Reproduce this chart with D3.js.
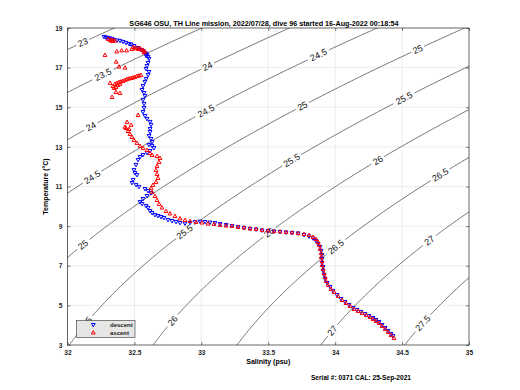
<!DOCTYPE html>
<html><head><meta charset="utf-8">
<script src="https://cdn.jsdelivr.net/npm/d3@7"></script>
<style>
body{margin:0;background:#fff}
text{font-family:"Liberation Sans",Arial,sans-serif}
</style></head><body>
<svg id="chart" width="520" height="390"></svg>
<script>
// descent profile (blue), [salinity, temperature]
const descent = [
[32.273,18.55],[32.288,18.52],[32.303,18.50],[32.318,18.47],[32.333,18.45],[32.348,18.40],[32.370,18.37],[32.392,18.35],
[32.415,18.30],[32.437,18.25],[32.460,18.19],[32.475,18.17],[32.497,18.09],[32.527,17.99],[32.549,17.89],[32.564,17.84],
[32.579,17.74],[32.587,17.69],[32.594,17.64],[32.587,17.59],[32.602,17.54],[32.609,17.44],[32.602,17.24],[32.594,17.08],
[32.587,16.93],[32.609,16.78],[32.602,16.63],[32.587,16.43],[32.579,16.28],[32.564,16.07],[32.557,15.87],[32.572,15.72],
[32.579,15.57],[32.564,15.37],[32.572,15.17],[32.572,14.96],[32.564,14.76],[32.579,14.56],[32.594,14.41],[32.617,14.26],
[32.624,14.11],[32.617,13.90],[32.617,13.75],[32.609,13.55],[32.624,13.40],[32.632,13.25],[32.609,13.10],[32.632,13.05],
[32.646,12.94],[32.617,12.79],[32.594,12.69],[32.564,12.59],[32.542,12.49],[32.527,12.34],[32.512,12.09],[32.497,11.83],
[32.504,11.68],[32.519,11.58],[32.490,11.33],[32.482,11.18],[32.512,11.08],[32.534,10.98],[32.579,10.87],[32.602,10.77],
[32.624,10.67],[32.594,10.52],[32.564,10.37],[32.542,10.22],[32.557,10.12],[32.587,10.02],[32.602,9.92],[32.617,9.76],
[32.632,9.66],[32.654,9.56],[32.676,9.51],[32.699,9.46],[32.721,9.41],[32.751,9.31],[32.781,9.26],[32.811,9.21],
[32.841,9.16],[32.878,9.13],[32.916,9.16],[32.953,9.21],[32.990,9.23],[33.028,9.21],[33.065,9.18],[33.102,9.16],
[33.140,9.11],[33.185,9.06],[33.229,9.01],[33.274,8.96],[33.319,8.91],[33.364,8.86],[33.409,8.83],[33.454,8.78],
[33.499,8.75],[33.543,8.73],[33.588,8.70],[33.633,8.68],[33.678,8.65],[33.723,8.63],[33.767,8.55],[33.805,8.48],
[33.835,8.38],[33.857,8.25],[33.872,8.10],[33.887,7.95],[33.895,7.75],[33.902,7.54],[33.902,7.34],[33.902,7.14],
[33.910,6.94],[33.910,6.74],[33.917,6.53],[33.925,6.33],[33.940,6.13],[33.962,5.93],[33.984,5.73],[34.014,5.52],
[34.044,5.32],[34.074,5.17],[34.104,5.02],[34.134,4.87],[34.163,4.77],[34.193,4.67],[34.223,4.56],[34.253,4.46],
[34.283,4.36],[34.305,4.26],[34.328,4.16],[34.350,4.01],[34.373,3.86],[34.395,3.71],[34.417,3.56],[34.432,3.45]
];

// ascent profile (red), [salinity, temperature]
const ascent = [
[34.440,3.35],[34.417,3.50],[34.395,3.66],[34.373,3.81],[34.350,3.96],[34.328,4.11],[34.305,4.21],[34.283,4.31],
[34.260,4.41],[34.231,4.51],[34.201,4.62],[34.171,4.72],[34.141,4.82],[34.111,4.97],[34.081,5.12],[34.052,5.27],
[34.022,5.47],[33.992,5.68],[33.969,5.83],[33.947,6.03],[33.932,6.23],[33.925,6.43],[33.917,6.63],[33.910,6.84],
[33.902,7.04],[33.902,7.24],[33.895,7.44],[33.895,7.64],[33.887,7.85],[33.880,8.05],[33.872,8.20],[33.857,8.35],
[33.835,8.45],[33.805,8.55],[33.767,8.60],[33.723,8.65],[33.678,8.68],[33.633,8.70],[33.588,8.73],[33.543,8.75],
[33.499,8.78],[33.454,8.81],[33.409,8.86],[33.364,8.88],[33.319,8.93],[33.274,8.96],[33.229,9.01],[33.185,9.03],
[33.140,9.06],[33.095,9.11],[33.050,9.13],[33.005,9.18],[32.960,9.21],[32.916,9.26],[32.878,9.31],[32.841,9.39],
[32.803,9.51],[32.766,9.64],[32.736,9.76],[32.706,9.94],[32.684,10.12],[32.669,10.32],[32.654,10.52],[32.632,10.72],
[32.624,10.93],[32.639,11.08],[32.661,11.23],[32.676,11.43],[32.669,11.63],[32.661,11.83],[32.669,12.04],[32.684,12.24],
[32.691,12.44],[32.669,12.54],[32.632,12.59],[32.617,12.69],[32.594,12.84],[32.564,12.94],[32.542,13.05],[32.519,13.20],
[32.497,13.35],[32.482,13.50],[32.467,13.65],[32.452,13.80],[32.437,13.95],[32.445,14.26],[32.430,14.01],[32.475,14.11],
[32.460,13.90],[32.527,14.61],[32.392,15.72],[32.362,15.77],[32.333,15.52],
[32.340,16.07],[32.348,15.97],[32.362,16.02],[32.355,16.18],[32.370,16.23],[32.377,16.12],[32.385,16.28],[32.392,16.18],
[32.400,16.30],[32.415,16.33],[32.430,16.38],[32.445,16.43],[32.460,16.45],[32.475,16.48],[32.490,16.50],[32.504,16.53],
[32.519,16.58],[32.534,16.60],[32.549,16.63],[32.318,16.23],
[32.430,17.00],[32.385,17.05],[32.364,17.30],[32.280,17.64],
[32.368,17.82],[32.405,17.87],[32.442,17.87],[32.480,17.94],[32.504,17.98],[32.517,18.01],[32.529,17.94],[32.542,17.98],
[32.555,17.91],[32.567,17.88],[32.579,17.81],[32.490,18.04],[32.572,17.77],
[32.303,18.45],[32.318,18.40],[32.333,18.42],[32.340,18.35],[32.355,18.37],[32.330,18.35]
];

const xTicks = [32, 32.5, 33, 33.5, 34, 34.5, 35];
const yTicks = [3, 5, 7, 9, 11, 13, 15, 17, 19];
const sigmaLevels = [23, 23.5, 24, 24.5, 25, 25.5, 26, 26.5, 27, 27.5];
// where the contour labels sit: level, salinity, temperature
const labelLevel = [23, 23.5, 24, 24, 24.5, 24.5, 24.5, 25, 25, 25, 25.5, 25.5, 25.5, 25.5, 26, 26, 26, 26.5, 26.5, 27, 27, 27.5];
const labelS = [32.116, 32.265, 32.183, 33.050, 32.191, 33.028, 33.887, 32.116, 33.759, 34.619, 32.131, 32.863, 33.678, 34.522, 32.803, 33.513, 34.321, 34.014, 34.799, 33.977, 34.716, 34.671];
const labelT = [18.25, 16.63, 14.00, 17.03, 11.48, 14.86, 17.54, 8.05, 15.01, 17.94, 4.01, 8.81, 12.24, 15.37, 4.16, 8.65, 12.34, 7.90, 11.48, 3.76, 8.15, 4.01];

// potential density anomaly, EOS-80 at surface pressure
function sigma0(S, T) {
    const rw = 999.842594 + 6.793952e-2*T - 9.095290e-3*T*T + 1.001685e-4*T**3 - 1.120083e-6*T**4 + 6.536332e-9*T**5;
    const A = 0.824493 - 4.0899e-3*T + 7.6438e-5*T*T - 8.2467e-7*T**3 + 5.3875e-9*T**4;
    const B = -5.72466e-3 + 1.0227e-4*T - 1.6546e-6*T*T;
    return rw + A*S + B*S**1.5 + 4.8314e-4*S*S - 1000;
}

const svg = d3.select('#chart');
const pl = 67.5, pr = 469, pt = 28, pb = 345;
const x = d3.scaleLinear().domain([32, 35]).range([pl, pr]);
const y = d3.scaleLinear().domain([3, 19]).range([pb, pt]);

svg.append('defs').append('clipPath').attr('id', 'plot')
    .append('rect').attr('x', pl).attr('y', pt).attr('width', pr - pl).attr('height', pb - pt);

// grid
svg.append('g').selectAll('line').data(xTicks.slice(1, -1)).join('line')
    .attr('x1', d => x(d)).attr('x2', d => x(d)).attr('y1', pt).attr('y2', pb)
    .attr('stroke', '#e3e3e3').attr('stroke-width', 0.6);
svg.append('g').selectAll('line').data(yTicks.slice(1, -1)).join('line')
    .attr('y1', d => y(d)).attr('y2', d => y(d)).attr('x1', pl).attr('x2', pr)
    .attr('stroke', '#e3e3e3').attr('stroke-width', 0.6);

// density contours
const S0 = 31.5, dS = 0.01, T0 = 2, dT = 0.05;
const nx = 401, ny = 361;
const vals = new Float64Array(nx * ny);
for (let j = 0; j < ny; j++)
    for (let i = 0; i < nx; i++) vals[j * nx + i] = sigma0(S0 + i * dS, T0 + j * dT);
const contours = d3.contours().size([nx, ny]).thresholds(sigmaLevels)(vals);

const cg = svg.append('g').attr('clip-path', 'url(#plot)');
const lg = svg.append('g');

contours.forEach(c => {
    const rings = [];
    c.coordinates.forEach(poly => poly.forEach(r => rings.push(r.map(p => [x(S0 + p[0] * dS), y(T0 + p[1] * dT)]))));
    const gaps = [];
    labelLevel.forEach((lv, k) => {
        if (lv !== c.value) return;
        const tx = x(labelS[k]), ty = y(labelT[k]);
        let best = null, bd = Infinity;
        rings.forEach(r => r.forEach((p, i) => {
            const dd = Math.hypot(p[0] - tx, p[1] - ty);
            if (dd < bd) { bd = dd; best = {r, i}; }
        }));
        if (!best) return;
        const r = best.r, n = r.length;
        const p = r[best.i], a = r[(best.i - 4 + n) % n], b = r[(best.i + 4) % n];
        let ang = Math.atan2(b[1] - a[1], b[0] - a[0]) * 180 / Math.PI;
        if (ang > 90) ang -= 180;
        if (ang < -90) ang += 180;
        const t = lg.append('text')
            .attr('transform', `translate(${p[0]},${p[1]}) rotate(${ang})`)
            .attr('text-anchor', 'middle').attr('dy', '0.35em')
            .style('font-size', '9px').attr('fill', '#111')
            .text(c.value);
        gaps.push({x: p[0], y: p[1], r: t.node().getComputedTextLength() / 2 + 2});
    });
    rings.forEach(r => {
        let seg = [];
        const segs = [];
        r.forEach(p => {
            if (gaps.some(g => Math.hypot(p[0] - g.x, p[1] - g.y) < g.r)) {
                if (seg.length > 1) segs.push(seg);
                seg = [];
            } else seg.push(p);
        });
        if (seg.length > 1) segs.push(seg);
        segs.forEach(s => cg.append('path').attr('d', d3.line()(s))
            .attr('fill', 'none').attr('stroke', '#333').attr('stroke-width', 0.7));
    });
});

// profile markers
const down = 'M-1.9,-1.5L1.9,-1.5L0,1.9Z';
const up = 'M-1.9,1.5L1.9,1.5L0,-1.9Z';
svg.append('g').selectAll('path').data(descent).join('path')
    .attr('d', down).attr('transform', d => `translate(${x(d[0])},${y(d[1])})`)
    .attr('fill', 'none').attr('stroke', '#0000ff').attr('stroke-width', 1);
svg.append('g').selectAll('path').data(ascent).join('path')
    .attr('d', up).attr('transform', d => `translate(${x(d[0])},${y(d[1])})`)
    .attr('fill', 'none').attr('stroke', '#ff0000').attr('stroke-width', 1);

// axes, MATLAB style box with inward ticks
const fmt = d => d;
const ax = (g, axis) => {
    g.call(axis);
    g.select('.domain').remove();
    g.selectAll('line').attr('stroke', '#262626').attr('stroke-width', 0.6);
    g.selectAll('text').style('font-size', '6.6px').style('font-weight', 'bold').attr('fill', '#262626');
};
svg.append('g').attr('transform', `translate(0,${pb})`)
    .call(g => ax(g, d3.axisBottom(x).tickValues(xTicks).tickFormat(fmt).tickSize(-3).tickPadding(5)));
svg.append('g').attr('transform', `translate(0,${pt})`)
    .call(g => ax(g, d3.axisTop(x).tickValues(xTicks).tickFormat('').tickSize(-3)));
svg.append('g').attr('transform', `translate(${pl},0)`)
    .call(g => ax(g, d3.axisLeft(y).tickValues(yTicks).tickFormat(fmt).tickSize(-3).tickPadding(5)));
svg.append('g').attr('transform', `translate(${pr},0)`)
    .call(g => ax(g, d3.axisRight(y).tickValues(yTicks).tickFormat('').tickSize(-3)));
svg.append('rect').attr('x', pl).attr('y', pt).attr('width', pr - pl).attr('height', pb - pt)
    .attr('fill', 'none').attr('stroke', '#262626').attr('stroke-width', 0.7);

// legend
const leg = svg.append('g').attr('transform', 'translate(76.5,320.5)');
leg.append('rect').attr('width', 58.5).attr('height', 17).attr('fill', '#e6e6e6').attr('stroke', '#333').attr('stroke-width', 0.6);
[['descent', down, '#0000ff'], ['ascent', up, '#ff0000']].forEach((d, i) => {
    leg.append('path').attr('d', d[1]).attr('transform', `translate(16.8,${4.5 + i * 7.5})`)
        .attr('fill', 'none').attr('stroke', d[2]).attr('stroke-width', 1);
    leg.append('text').attr('x', 33.5).attr('y', 6.5 + i * 7.5).text(d[0])
        .style('font-size', '6px').style('font-weight', 'bold').attr('fill', '#222');
});

// titles
svg.append('text').attr('x', 264).attr('y', 26).attr('text-anchor', 'middle')
    .style('font-size', '7.2px').style('font-weight', 'bold')
    .text('SG646 OSU, TH Line mission, 2022/07/28, dive 96 started 16-Aug-2022 00:18:54');
svg.append('text').attr('x', (pl + pr) / 2).attr('y', 364).attr('text-anchor', 'middle')
    .style('font-size', '7px').style('font-weight', 'bold').text('Salinity (psu)');
svg.append('text').attr('transform', `translate(48,${(pt + pb) / 2}) rotate(-90)`).attr('text-anchor', 'middle')
    .style('font-size', '7px').style('font-weight', 'bold').text('Temperature (°C)');
svg.append('text').attr('x', 361).attr('y', 380).attr('text-anchor', 'middle')
    .style('font-size', '6.6px').style('font-weight', 'bold').text('Serial #: 0371  CAL: 25-Sep-2021');
</script>
</body></html>
